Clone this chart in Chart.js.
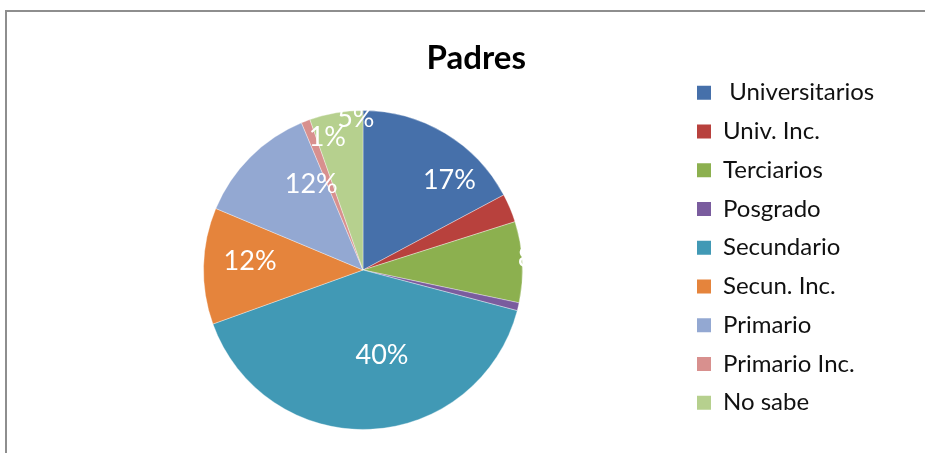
<!DOCTYPE html>
<html><head><meta charset="utf-8">
<script src="https://cdn.jsdelivr.net/npm/chart.js@4.4.0/dist/chart.umd.min.js"></script>
<style>
html,body{margin:0;padding:0;background:#fff;width:925px;height:453px;overflow:hidden;position:relative}
#ftop{position:absolute;left:5px;top:10px;width:930px;height:2px;background:#8e8e8e}
#fleft{position:absolute;left:5px;top:10px;width:2px;height:450px;background:#8e8e8e}
#wrap{position:absolute;left:0;top:0;width:925px;height:453px}
</style></head><body>
<div id="ftop"></div><div id="fleft"></div>
<div id="wrap"><canvas id="c" width="925" height="453"></canvas></div>
<script>
const chartTitle = 'Padres';
const categories = [' Universitarios', 'Univ. Inc.', 'Terciarios', 'Posgrado', 'Secundario', 'Secun. Inc.', 'Primario', 'Primario Inc.', 'No sabe'];
const values = [17.2, 2.9, 8.2, 0.8, 40.4, 11.8, 12.4, 0.9, 5.4];
const showLabel = [true, false, true, false, true, true, true, true, true];

const colors = ['#4670AA', '#B8413D', '#8CB04F', '#7A5C9E', '#4199B5', '#E5843C', '#93A8D2', '#D8908E', '#B6D08E'];
// label placement (fraction of radius, angular shift in degrees from slice middle)
const labelRadius = [0.78, 0, 1.09, 0, 0.55, 0.71, 0.63, 0.86, 0.95];
const labelShift = [13, 0, -1, 0, -10, 3, 14, 6, 7];

const FONT = 'Lato';
const legendFont = 24, legendPad = 14.75, boxW = 14;
const pieCx = 363, titleCx = 475, legendBoxX = 697;

// layout computation
const mctx = document.createElement('canvas').getContext('2d');
mctx.font = legendFont + 'px ' + FONT;
const widths = categories.map(c => mctx.measureText(c).width);
const textW = Math.max(...widths);
const widestIdx = widths.indexOf(textW);
const wantLegendW = 2 * (titleCx - pieCx);
const spW = mctx.measureText('\u00a0').width;
const baseLegendW = legendPad + boxW + legendFont / 2 + textW + 10;
const nSp = Math.max(0, Math.round((wantLegendW - baseLegendW) / spW));
const pad = '\u00a0'.repeat(nSp);
const legendW = legendPad + boxW + legendFont / 2 + mctx.measureText(categories[widestIdx] + pad).width + 10;
const legendLeft = legendBoxX - legendPad;
const padLeft = 2 * pieCx - legendLeft;
const padRight = 925 - legendLeft - legendW;

const pieLabels = {
  id: 'pieLabels',
  afterDatasetsDraw(chart) {
    const meta = chart.getDatasetMeta(0);
    const ctx = chart.ctx;
    const a0 = meta.data[0];
    const R = a0.outerRadius, cx = a0.x, cy = a0.y;
    ctx.save();
    ctx.beginPath();
    ctx.rect(cx - R - 4, cy - R - 2, 2 * R + 8, 2 * R + 6);
    ctx.clip();
    ctx.font = '27px ' + FONT;
    ctx.fillStyle = '#ffffff';
    ctx.textAlign = 'center';
    ctx.textBaseline = 'middle';
    meta.data.forEach((arc, i) => {
      if (!showLabel[i]) return;
      const p = arc.getProps(['startAngle', 'endAngle'], true);
      const mid = (p.startAngle + p.endAngle) / 2 + labelShift[i] * Math.PI / 180;
      const r = R * labelRadius[i];
      ctx.fillText(Math.round(values[i]) + '%', cx + Math.cos(mid) * r, cy + Math.sin(mid) * r);
    });
    ctx.restore();
  }
};

new Chart(document.getElementById('c'), {
  type: 'pie',
  data: {
    labels: categories,
    datasets: [{
      data: values,
      backgroundColor: colors,
      borderColor: 'rgba(255,255,255,0.35)',
      borderWidth: 1
    }]
  },
  options: {
    responsive: false,
    animation: false,
    devicePixelRatio: 1,
    layout: { padding: { left: padLeft, right: padRight, top: 0, bottom: 23 } },
    plugins: {
      tooltip: { enabled: false },
      title: {
        display: true,
        text: chartTitle,
        color: '#000',
        font: { family: FONT, size: 33, weight: 'bold' },
        padding: { top: 39, bottom: 31.4 }
      },
      legend: {
        position: 'right',
        align: 'start',
        title: { display: true, text: '', font: { size: 10 }, padding: { top: 54, bottom: 0 } },
        labels: {
          color: '#111',
          font: { family: FONT, size: legendFont },
          boxWidth: boxW,
          boxHeight: 14,
          padding: legendPad,
          generateLabels(chart) {
            const items = Chart.overrides.pie.plugins.legend.labels.generateLabels(chart);
            items.forEach((it, i) => {
              it.lineWidth = 0;
              it.strokeStyle = 'rgba(0,0,0,0)';
              if (i === widestIdx) it.text = it.text + pad;
            });
            return items;
          }
        }
      }
    }
  },
  plugins: [pieLabels]
});
</script>
</body></html>
